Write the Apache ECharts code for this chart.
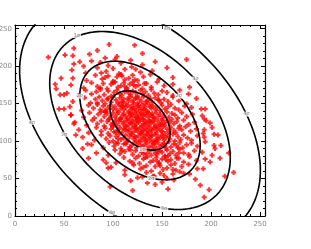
<!DOCTYPE html>
<html><head><meta charset="utf-8">
<script src="https://cdn.jsdelivr.net/npm/echarts@6/dist/echarts.min.js"></script>
<style>html,body{margin:0;padding:0;background:#fff}#c{width:311px;height:249px}</style>
</head><body><div id="c"></div>
<script>
// axis ticks
const xTicks = [0, 50, 100, 150, 200, 250];
const yTicks = [0, 50, 100, 150, 200, 250];
// contour model
const ellipseCenter = [127.5, 127.5];
const ellipseSigma = [30.7, 39.6];
const ellipseRho = -0.42;
const contourLevels = [1, 2, 3, 4];
const contourNames = ['1σ', '2σ', '3σ', '4σ'];
// contour label positions [x, y, levelIndex]
const contourLabels = [
  [130, 89, 0],
  [66, 160, 1], [139, 50, 1], [167, 160, 1],
  [63, 241, 2], [50, 109, 2], [152, 10, 2], [184, 183, 2],
  [17, 125, 3], [155, 250, 3], [236, 136, 3], [99, 4, 3]
];
// scatter points, band by band
const pointsX = [
 60,96,122,84,
 34,59,51,76,104,130,92,
 87,175,60,70,78,95,108,118,130,143,102,66,
 58,72,84,93,100,106,112,119,128,140,155,88,123,
 47,59,73,82,89,95,100,104,108,112,116,120,125,131,138,147,92,109,122,161,
 41,42,57,70,78,84,90,94,98,102,105,108,111,114,117,120,123,126,130,134,139,145,152,161,87,100,112,121,132,178,
 46,50,53,65,72,78,83,87,91,95,98,101,104,107,109,112,114,116,118,120,123,125,128,130,133,136,139,142,146,150,155,161,168,177,
 59,71,77,82,86,89,92,95,98,100,103,105,107,109,111,113,115,116,118,120,121,123,125,127,129,131,133,135,138,140,143,146,149,152,156,161,167,175,185,94,110,124,134,147,84,
 45,50,194,56,68,75,80,84,87,90,93,95,98,100,102,104,106,108,110,111,113,115,116,118,119,121,122,124,125,127,128,130,132,133,135,137,139,141,143,145,148,150,153,156,159,163,167,173,180,190,92,109,120,126,131,138,
 57,193,57,70,76,81,85,88,91,94,96,98,100,102,104,106,108,110,111,113,114,116,117,119,120,122,123,125,126,128,129,131,132,134,135,137,139,140,142,144,146,148,150,152,155,157,160,163,166,170,175,181,191,92,107,118,124,130,136,141,
 60,199,61,73,79,84,88,91,94,96,98,101,103,104,106,108,110,111,113,114,116,117,119,120,122,123,124,126,127,129,130,132,133,134,136,137,139,140,142,143,145,146,148,150,152,153,155,158,160,162,165,168,172,177,183,195,100,118,125,131,138,149,
 193,65,75,83,88,92,95,98,100,103,105,107,109,111,113,115,116,118,119,121,122,124,125,127,128,130,131,133,134,136,137,139,140,142,144,145,147,149,151,153,155,157,159,162,164,167,170,174,179,185,192,201,101,112,123,129,135,143,150,
 62,207,69,81,88,93,97,100,103,106,108,111,113,115,117,119,121,123,124,126,128,129,131,132,134,135,137,138,140,141,143,145,146,148,150,152,154,156,158,161,163,166,169,172,176,180,186,193,203,105,122,133,139,144,151,
 74,69,203,210,78,90,96,101,105,108,111,114,117,119,122,124,126,128,130,132,134,135,137,139,140,142,144,146,148,150,152,154,157,159,162,165,168,171,175,180,186,194,204,113,129,143,153,166,103,
 218,83,95,102,107,112,116,120,123,126,129,132,134,137,139,141,143,145,148,150,153,155,158,161,164,168,172,177,183,191,201,118,131,146,156,167,109,
 75,93,209,199,90,103,111,117,123,127,131,135,138,141,144,147,150,153,156,159,163,167,172,178,185,194,120,133,145,154,165,
 95,192,98,112,121,128,134,139,143,147,151,155,159,164,170,177,186,131,148,161,
 142,214,223,178,172,112,125,134,141,148,155,161,168,130,152,
 135,184,189,118,150,162,143,
 97,120,198,156,
 193
];
const pointsY = [
 224,229,228,221,
 212,214,215,216,213,217,211,
 205,209,203,200,207,201,204,208,202,206,209,206,
 195,191,198,193,197,190,196,199,192,194,198,191,196,
 184,184,181,188,183,187,180,186,189,182,184,188,181,186,189,183,185,187,182,185,
 176,170,175,171,178,173,177,170,176,179,172,174,178,171,176,179,173,175,170,177,172,179,174,176,171,178,173,175,177,172,
 162,162,164,161,168,163,166,169,162,167,160,165,168,163,161,166,169,164,162,167,165,160,168,163,166,161,169,164,162,167,165,161,168,163,
 153,158,151,156,159,154,150,157,152,159,155,151,158,153,156,150,157,154,159,152,155,158,151,156,153,159,150,154,157,152,158,155,151,156,153,159,154,150,157,156,152,158,153,155,151,
 143,143,143,146,141,148,144,149,142,147,140,145,148,143,146,141,149,144,147,142,145,148,140,146,143,149,144,141,147,145,142,148,143,146,140,149,144,147,142,145,141,148,143,146,149,144,142,147,145,143,141,147,144,148,142,146,
 135,130,135,132,138,131,136,139,133,137,130,134,138,132,136,139,131,135,137,133,130,138,134,136,132,139,135,131,137,133,138,130,136,134,139,132,135,137,131,138,133,136,130,134,139,132,137,135,131,138,133,136,134,139,130,137,132,135,138,133,
 123,124,125,121,128,123,127,120,126,129,122,124,128,121,126,129,123,125,120,127,122,129,124,126,121,128,123,125,127,120,129,122,126,124,128,121,125,127,123,129,120,126,122,128,124,121,127,125,129,123,126,120,128,122,125,127,121,124,129,123,126,122,
 115,115,111,118,113,117,110,116,119,112,114,118,111,116,119,113,115,110,117,112,119,114,116,111,118,113,115,117,110,119,112,116,114,118,111,115,117,113,119,110,116,112,118,114,111,117,115,119,113,116,110,118,112,115,117,111,114,119,113,
 108,108,105,101,108,103,107,100,106,109,102,104,108,101,106,109,103,105,100,107,102,109,104,106,101,108,103,105,107,100,109,102,106,104,108,101,105,107,103,109,100,106,102,108,104,101,107,105,109,103,106,100,108,102,105,
 96,90,94,94,95,91,98,93,97,90,96,99,92,94,98,91,96,99,93,95,90,97,92,99,94,96,91,98,93,95,97,90,99,92,96,94,98,91,95,97,93,99,90,96,92,98,94,91,97,
 84,84,81,88,83,86,89,82,87,80,85,88,83,86,81,89,84,82,87,85,80,88,83,86,81,89,84,82,87,85,81,88,83,86,80,84,87,
 77,71,77,72,75,71,78,73,77,70,76,79,72,74,78,71,76,79,73,75,70,77,72,79,74,76,71,78,73,75,77,
 64,63,65,61,68,63,67,60,66,69,62,64,68,61,66,69,63,65,67,62,
 53,53,58,56,57,55,51,58,53,57,50,56,59,52,54,
 44,49,41,47,45,48,42,
 39,34,35,36,
 25
];

const scatterData = pointsX.map((x, i) => [x, pointsY[i]]);

const ellipseSeries = contourLevels.map((k) => {
  const d = [];
  const s = Math.sqrt(1 - ellipseRho * ellipseRho);
  for (let a = 0; a <= 360; a += 2) {
    const t = a * Math.PI / 180;
    d.push([
      ellipseCenter[0] + k * ellipseSigma[0] * Math.cos(t),
      ellipseCenter[1] + k * ellipseSigma[1] * (ellipseRho * Math.cos(t) + s * Math.sin(t))
    ]);
  }
  return {
    type: 'line', data: d, showSymbol: false, symbol: 'none', smooth: false,
    clip: true, z: 5, silent: true,
    lineStyle: { color: '#000', width: 1.6 }
  };
});

const plus = 'path://M1.5,0H3.5V1.5H5V3.5H3.5V5H1.5V3.5H0V1.5H1.5Z';
const axisCommon = {
  type: 'value', min: 0, max: 255, interval: 50,
  axisLine: { show: true, onZero: false, lineStyle: { color: '#000', width: 1.2 } },
  axisTick: { show: true, inside: true, length: 4, lineStyle: { color: '#000', width: 1 } },
  minorTick: { show: true, splitNumber: 5, length: 2, lineStyle: { color: '#000', width: 1 } },
  splitLine: { show: false },
  axisLabel: { show: true, color: '#888', fontSize: 7, fontFamily: 'DejaVu Sans', showMaxLabel: false, margin: 5 }
};
const chart = echarts.init(document.getElementById('c'), null, { renderer: 'canvas' });
chart.setOption({
  animation: false,
  backgroundColor: '#fff',
  grid: { left: 15, right: 46, top: 25, bottom: 33, containLabel: false, outerBoundsMode: 'none' },
  xAxis: [
    Object.assign({}, axisCommon, { position: 'bottom' }),
    Object.assign({}, axisCommon, { position: 'top', axisLabel: { show: false } })
  ],
  yAxis: [
    Object.assign({}, axisCommon, { position: 'left', axisLabel: Object.assign({}, axisCommon.axisLabel, { margin: 3 }) }),
    Object.assign({}, axisCommon, { position: 'right', axisLabel: { show: false } })
  ],
  series: [
    {
      type: 'scatter', data: scatterData, symbol: plus, symbolSize: 5, z: 2,
      itemStyle: { color: '#ff0000' }, silent: true
    },
    ...ellipseSeries,
    {
      type: 'scatter', z: 10, silent: true, symbolSize: 0,
      data: contourLabels.map(l => ({ value: [l[0], l[1]], name: contourNames[l[2]] })),
      label: {
        show: true, position: 'inside', formatter: p => p.name,
        fontSize: 5, color: '#666', backgroundColor: '#fff', padding: [0, 1],
        fontFamily: 'DejaVu Sans'
      }
    }
  ]
});
</script></body></html>
